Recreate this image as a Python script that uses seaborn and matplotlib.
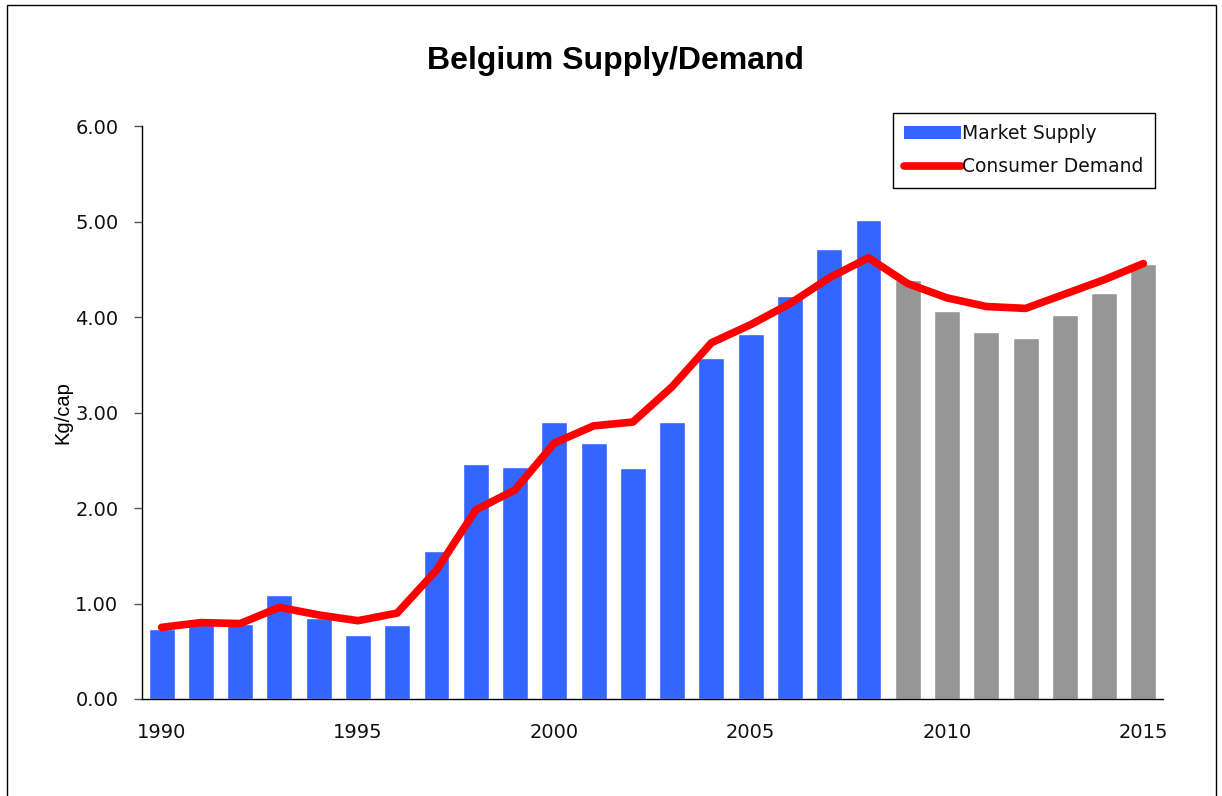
import pandas as pd
import seaborn as sns
import matplotlib.pyplot as plt
from matplotlib.patches import Patch, Rectangle
from matplotlib.lines import Line2D

# Data (kg per capita)
years = list(range(1990, 2016))
market_supply = [0.73, 0.84, 0.79, 1.09, 0.85, 0.67, 0.78, 1.55, 2.46, 2.43,
                 2.90, 2.68, 2.42, 2.90, 3.57, 3.82, 4.22, 4.71, 5.02, 4.39,
                 4.06, 3.84, 3.78, 4.02, 4.25, 4.56]
consumer_demand = [0.75, 0.80, 0.79, 0.96, 0.88, 0.82, 0.90, 1.35, 1.98, 2.19,
                   2.68, 2.86, 2.90, 3.27, 3.73, 3.92, 4.14, 4.41, 4.62, 4.35,
                   4.20, 4.11, 4.09, 4.24, 4.39, 4.56]
forecast_start = 2009
label_years = [1990, 1995, 2000, 2005, 2010, 2015]

BLUE = "#3366FF"
GREY = "#969696"
RED = "#FF0000"

df = pd.DataFrame({"Year": years, "Supply": market_supply, "Demand": consumer_demand})
df["Period"] = ["forecast" if y >= forecast_start else "actual" for y in df["Year"]]

sns.set_style("white")
plt.rcParams["font.family"] = ["DejaVu Sans"]

fig = plt.figure(figsize=(12.22, 7.96), dpi=100)
ax = fig.add_axes([142 / 1222, 1 - 699 / 796, (1163 - 142) / 1222, (699 - 126) / 796])

sns.barplot(data=df, x="Year", y="Supply", hue="Period", native_scale=True,
            palette={"actual": BLUE, "forecast": GREY}, saturation=1,
            width=0.66, dodge=False, legend=False, ax=ax)
sns.lineplot(data=df, x="Year", y="Demand", color=RED, linewidth=5.5,
             solid_capstyle="round", solid_joinstyle="round", ax=ax)

ax.set_xlim(years[0] - 0.5, years[-1] + 0.5)
ax.set_ylim(0, 6)
ax.set_yticks([0, 1, 2, 3, 4, 5, 6])
ax.set_yticklabels([f"{v:.2f}" for v in [0, 1, 2, 3, 4, 5, 6]])
ax.set_xticks(label_years)
ax.set_xticklabels([str(y) for y in label_years])
ax.set_xticks([y - 0.5 for y in years] + [years[-1] + 0.5], minor=True)

ax.tick_params(axis="x", which="major", length=0, pad=17, labelsize=14, labelcolor="#111111")
ax.tick_params(axis="x", which="minor", length=7, width=1, color="#333333", direction="out")
ax.tick_params(axis="y", length=6, width=1, color="#555555", direction="out",
               pad=11, labelsize=14, labelcolor="#111111")
ax.tick_params(bottom=True, left=True)

for side in ["top", "right"]:
    ax.spines[side].set_visible(False)
for side in ["left", "bottom"]:
    ax.spines[side].set_color("black")
    ax.spines[side].set_linewidth(1)

ax.set_xlabel("")
ax.set_ylabel("Kg/cap", fontsize=14.5, family="Liberation Sans", color="black")
ax.yaxis.set_label_coords(-0.068, 0.5)

fig.text(615 / 1222, 1 - 61 / 796, "Belgium Supply/Demand", ha="center", va="center",
         fontsize=23, fontweight="bold", family="Liberation Sans", color="black")

handles = [Patch(facecolor=BLUE, edgecolor="none"),
           Line2D([], [], color=RED, linewidth=5.5, solid_capstyle="round")]
leg = ax.legend(handles, ["Market Supply", "Consumer Demand"],
                loc="upper right", bbox_to_anchor=(1155 / 1222, 1 - 113 / 796),
                bbox_transform=fig.transFigure, borderaxespad=0, fontsize=13.5,
                handlelength=3.0, handletextpad=0.1, labelspacing=0.75,
                borderpad=0.6, fancybox=False, framealpha=1)
leg.get_frame().set_edgecolor("black")
leg.get_frame().set_linewidth(1)
for t in leg.get_texts():
    t.set_color("#111111")

# outer chart-area border as in the spreadsheet export
fig.patches.append(Rectangle((7 / 1222, -0.1), (1216 - 7) / 1222, 1.1 - 5 / 796,
                             transform=fig.transFigure, fill=False,
                             edgecolor="black", linewidth=1))

plt.savefig("out.png", dpi=100)
plt.close()
